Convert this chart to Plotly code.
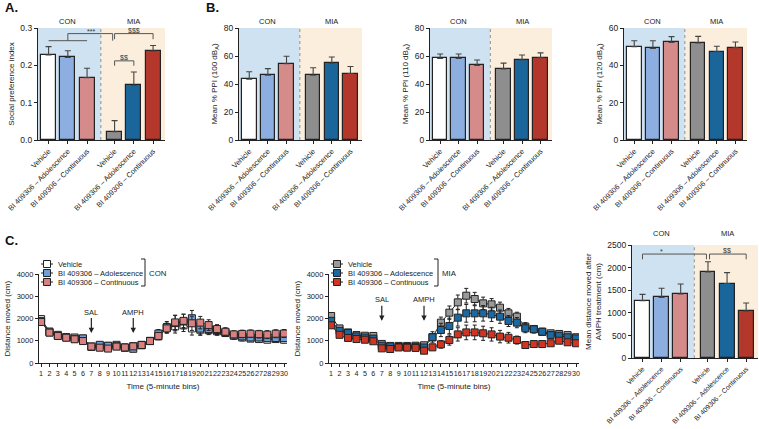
import plotly.graph_objects as go

# ---- data ----
treatments = ["Vehicle", "BI 409306 – Adolescence", "BI 409306 – Continuous"]
bar_labels = treatments + treatments

social_pref = [0.228, 0.221, 0.167, 0.022, 0.146, 0.238]
social_pref_err = [0.022, 0.018, 0.025, 0.030, 0.036, 0.015]

ppi_100 = [43.4, 46.3, 54.5, 46.3, 54.7, 47.5]
ppi_100_err = [5.3, 4.7, 5.3, 5.3, 4.6, 5.0]
ppi_110 = [58.3, 58.3, 53.3, 50.8, 57.1, 58.8]
ppi_110_err = [3.1, 3.1, 3.8, 4.1, 3.6, 3.4]
ppi_120 = [50.0, 49.1, 52.3, 52.0, 47.3, 49.5]
ppi_120_err = [3.2, 4.1, 3.1, 3.5, 2.9, 3.0]

amph_dist = [1270, 1345, 1420, 1905, 1650, 1040]
amph_dist_err = [140, 200, 220, 225, 240, 180]

bins = list(range(1, 31))
con_vehicle = [1980, 1420, 1270, 1170, 1150, 1100, 740, 790, 770, 820, 700, 760, 820, 990, 1200,
               1600, 1650, 1700, 1560, 1500, 1480, 1430, 1350, 1250, 1150, 1100, 1080, 1050, 1080, 1050]
con_vehicle_err = [90, 80, 70, 60, 60, 70, 60, 70, 60, 70, 60, 80, 70, 80, 150,
                   200, 300, 280, 300, 250, 200, 180, 150, 150, 150, 130, 130, 130, 140, 140]
con_adol = [1900, 1380, 1230, 1160, 1100, 1110, 730, 820, 780, 760, 690, 640, 800, 1000, 1330,
            1620, 1800, 1870, 2020, 1550, 1530, 1480, 1380, 1230, 1200, 1150, 1150, 1120, 1130, 1120]
con_adol_err = [100, 90, 80, 70, 70, 80, 60, 80, 70, 70, 60, 100, 80, 90, 180,
                250, 350, 330, 350, 280, 220, 200, 180, 170, 160, 150, 150, 150, 150, 150]
con_cont = [1850, 1370, 1220, 1140, 1070, 990, 740, 690, 650, 740, 700, 750, 810, 990, 1220,
            1560, 1830, 1900, 1790, 1820, 1710, 1530, 1410, 1290, 1310, 1320, 1300, 1280, 1320, 1330]
con_cont_err = [100, 80, 70, 70, 70, 80, 70, 70, 60, 70, 60, 90, 80, 80, 150,
                220, 320, 300, 320, 280, 240, 200, 180, 160, 170, 170, 170, 180, 180, 180]

mia_vehicle = [2120, 1560, 1380, 1260, 1230, 1220, 860, 770, 770, 770, 780, 800, 1160, 1820, 2270,
               2735, 3035, 2885, 2690, 2645, 2495, 2240, 2090, 1640, 1535, 1410, 1340, 1310, 1260, 1160]
mia_vehicle_err = [120, 100, 90, 80, 80, 90, 70, 60, 60, 60, 60, 70, 150, 250, 300,
                   330, 330, 300, 280, 260, 250, 220, 200, 180, 150, 130, 120, 120, 110, 110]
mia_adol = [1900, 1450, 1350, 1200, 1150, 1100, 780, 750, 720, 720, 730, 700, 1160, 1490, 1670,
            2045, 2240, 2240, 2240, 2195, 2090, 1895, 1820, 1565, 1520, 1410, 1260, 1230, 1160, 1110]
mia_adol_err = [130, 100, 90, 80, 80, 80, 70, 60, 60, 60, 60, 70, 250, 300, 350,
                380, 400, 380, 350, 320, 300, 250, 230, 200, 170, 150, 130, 120, 110, 100]
mia_cont = [1700, 1270, 1130, 1080, 1050, 980, 660, 630, 700, 690, 680, 555, 705, 840, 1035,
            1290, 1380, 1380, 1340, 1290, 1190, 1140, 1035, 810, 855, 855, 890, 1005, 935, 890]
mia_cont_err = [110, 90, 80, 70, 70, 80, 70, 60, 60, 60, 60, 80, 120, 170, 230,
                300, 330, 330, 320, 300, 280, 240, 180, 130, 110, 100, 100, 100, 90, 90]

# ---- styling ----
FONT = "Arial, Liberation Sans, sans-serif"
INK = "#222222"
bar_colors = ["#ffffff", "#8daee0", "#d68b8b", "#8e8e8e", "#1a6599", "#b3382b"]
BG_CON = "#cfe2f1"
BG_MIA = "#fbeedd"
W, H = 759, 429


def fx(px):
    return px / W


def fy(py):
    return 1 - py / H


pos = [1, 2, 3, 4.43, 5.43, 6.43]
xr = [0.45, 7.05]
mid = (pos[2] + pos[3]) / 2

fig = go.Figure()
shapes = []
annotations = []
layout_axes = {}


def bar_panel(n, vals, errs, xpx, ypx, yrange, dtick, ytitle, tickformat=None, xfont=7.4):
    s = "" if n == 1 else str(n)
    fig.add_trace(go.Bar(
        x=pos, y=vals, xaxis="x" + s, yaxis="y" + s, width=0.78,
        marker=dict(color=bar_colors, line=dict(color=INK, width=1.2)),
        error_y=dict(type="data", symmetric=False, array=errs, arrayminus=[0] * 6,
                     color="#444", thickness=1.1, width=3),
        showlegend=False, hoverinfo="skip"))
    layout_axes["xaxis" + s] = dict(
        domain=[fx(xpx[0]), fx(xpx[1])], anchor="y" + s, range=xr, automargin=False,
        tickmode="array", tickvals=pos, ticktext=bar_labels, tickangle=-45,
        tickfont=dict(size=xfont), showline=True, linecolor=INK, linewidth=1.3,
        ticks="outside", ticklen=3, tickcolor=INK, showgrid=False, zeroline=False)
    layout_axes["yaxis" + s] = dict(
        domain=[fy(ypx[1]), fy(ypx[0])], anchor="x" + s, range=yrange, dtick=dtick,
        automargin=False, tickformat=tickformat, tickfont=dict(size=8.5), showline=True,
        linecolor=INK, linewidth=1.3, ticks="outside", ticklen=3, tickcolor=INK,
        showgrid=False, zeroline=False, title=dict(text=ytitle, font=dict(size=8), standoff=4))
    xref, yref = "x" + s, "y" + s
    shapes.append(dict(type="rect", xref=xref, yref=yref, x0=xr[0], x1=mid,
                       y0=yrange[0], y1=yrange[1], fillcolor=BG_CON, line_width=0, layer="below"))
    shapes.append(dict(type="rect", xref=xref, yref=yref, x0=mid, x1=xr[1],
                       y0=yrange[0], y1=yrange[1], fillcolor=BG_MIA, line_width=0, layer="below"))
    shapes.append(dict(type="line", xref=xref, yref=yref, x0=mid, x1=mid,
                       y0=yrange[0], y1=yrange[1], line=dict(color="#777", width=0.8, dash="dot"),
                       layer="below"))
    annotations.append(dict(xref=xref, yref="paper", x=pos[1], y=fy(ypx[0] - 12), text="CON",
                            showarrow=False, borderpad=0, font=dict(size=7.5)))
    annotations.append(dict(xref=xref, yref="paper", x=pos[4], y=fy(ypx[0] - 12), text="MIA",
                            showarrow=False, borderpad=0, font=dict(size=7.5)))


def bracket(n, x0, x1, y_low, y_high, label, lx, ly):
    s = "" if n == 1 else str(n)
    shapes.append(dict(type="path", xref="x" + s, yref="y" + s,
                       path=f"M{x0},{y_low} L{x0},{y_high} L{x1},{y_high} L{x1},{y_low}",
                       line=dict(color="#555", width=1)))
    annotations.append(dict(xref="x" + s, yref="y" + s, x=lx, y=ly, text=label,
                            showarrow=False, borderpad=0, font=dict(size=7, color="#333")))


# Panel A
bar_panel(1, social_pref, social_pref_err, (38, 165), (28, 140), [0, 0.3], 0.1,
          "Social preference index", ".1f")
shapes.append(dict(type="line", xref="x", yref="y", x0=pos[0], x1=pos[2], y0=0.266, y1=0.266,
                   line=dict(color="#555", width=1)))
bracket(1, pos[1], pos[3] - 0.1, 0.266, 0.285, "***", 3.2, 0.291)
bracket(1, pos[3], pos[5], 0.27, 0.285, "$$$", pos[4], 0.293)
bracket(1, pos[3], pos[4], 0.199, 0.212, "$$", 4.93, 0.222)

# Panel B
bar_panel(2, ppi_100, ppi_100_err, (239, 362), (28, 140), [0, 80], 20, "Mean % PPI (100 dB<sub>A</sub>)")
bar_panel(3, ppi_110, ppi_110_err, (430, 552), (28, 140), [0, 80], 20, "Mean % PPI (110 dB<sub>A</sub>)")
bar_panel(4, ppi_120, ppi_120_err, (624, 747), (28, 140), [0, 60], 20, "Mean % PPI (120 dB<sub>A</sub>)")

# Panel C bar
bar_panel(7, amph_dist, amph_dist_err, (632, 758), (245, 358.3), [0, 2500], 500,
          "Mean distance moved after<br>AMPH treatment (cm)", xfont=6.8)
bracket(7, pos[0], pos[3] - 0.08, 2185, 2300, "*", 2.0, 2360)
bracket(7, pos[3] + 0.08, pos[5], 2185, 2300, "$$", 5.4, 2370)


# Panel C time courses
def line_panel(n, series, xpx, ypx):
    s = str(n)
    for vals, errs, col in series:
        fig.add_trace(go.Scatter(
            x=bins, y=vals, xaxis="x" + s, yaxis="y" + s, mode="lines+markers",
            line=dict(color=INK, width=1),
            marker=dict(symbol="square", size=7, color=col, line=dict(color=INK, width=1)),
            error_y=dict(type="data", array=errs, color=INK, thickness=1, width=2),
            showlegend=False, hoverinfo="skip"))
    layout_axes["xaxis" + s] = dict(
        domain=[fx(xpx[0]), fx(xpx[1])], anchor="y" + s, range=[0.75, 30.35], automargin=False,
        tickmode="linear", tick0=1, dtick=1, tickangle=0, tickfont=dict(size=7.2),
        showline=True, linecolor=INK, linewidth=1.3, ticks="outside", ticklen=3,
        tickcolor=INK, showgrid=False, zeroline=False,
        title=dict(text="Time (5-minute bins)", font=dict(size=8), standoff=6))
    layout_axes["yaxis" + s] = dict(
        domain=[fy(ypx[1]), fy(ypx[0])], anchor="x" + s, range=[0, 4000], dtick=1000,
        automargin=False, tickfont=dict(size=7.5), showline=True, linecolor=INK, linewidth=1.3,
        ticks="outside", ticklen=3, tickcolor=INK, showgrid=False, zeroline=False,
        title=dict(text="Distance moved (cm)", font=dict(size=8), standoff=4))


line_panel(5, [(con_vehicle, con_vehicle_err, "#ffffff"),
               (con_adol, con_adol_err, "#6f9fd8"),
               (con_cont, con_cont_err, "#d98080")], (39, 287), (274.3, 363))
line_panel(6, [(mia_vehicle, mia_vehicle_err, "#9a9a9a"),
               (mia_adol, mia_adol_err, "#1a69a2"),
               (mia_cont, mia_cont_err, "#cf3522")], (329, 579), (274.3, 363))

for s, tip in (("5", 1350), ("6", 1900)):
    for b, lab in ((7, "SAL"), (12, "AMPH")):
        annotations.append(dict(xref="x" + s, yref="y" + s, x=b, y=tip, text=lab, showarrow=True,
                                ax=0, ay=-21, arrowhead=2, arrowsize=0.9, arrowwidth=1.2,
                                arrowcolor=INK, font=dict(size=7.5)))


# manual legends
def legend_block(x_sq, ys, colors, x_br, group):
    for yy, col, lab in zip(ys, colors, treatments):
        shapes.append(dict(type="line", xref="paper", yref="paper", x0=fx(x_sq - 6), x1=fx(x_sq + 6),
                           y0=fy(yy), y1=fy(yy), line=dict(color=INK, width=1)))
        shapes.append(dict(type="rect", xref="paper", yref="paper", x0=fx(x_sq - 3.5), x1=fx(x_sq + 3.5),
                           y0=fy(yy + 3.5), y1=fy(yy - 3.5), fillcolor=col, line=dict(color=INK, width=1)))
        annotations.append(dict(xref="paper", yref="paper", x=fx(x_sq + 9), y=fy(yy), text=lab,
                                showarrow=False, xanchor="left", yanchor="middle", font=dict(size=7.5)))
    shapes.append(dict(type="path", xref="paper", yref="paper",
                       path=f"M{fx(x_br - 4)},{fy(ys[0] - 5)} L{fx(x_br)},{fy(ys[0] - 5)} "
                            f"L{fx(x_br)},{fy(ys[-1] + 4)} L{fx(x_br - 4)},{fy(ys[-1] + 4)}",
                       line=dict(color=INK, width=1)))
    annotations.append(dict(xref="paper", yref="paper", x=fx(x_br + 2), y=fy(ys[1]), text=group,
                            showarrow=False, xanchor="left", yanchor="middle", font=dict(size=7.8)))


legend_block(47, [264, 273, 282], ["#ffffff", "#6f9fd8", "#d98080"], 145, "CON")
legend_block(337, [264, 273, 282], ["#9a9a9a", "#1a69a2", "#cf3522"], 438, "MIA")

# panel letters
for lab, px, py in (("A.", 3, 7), ("B.", 204, 7), ("C.", 3, 240)):
    annotations.append(dict(xref="paper", yref="paper", x=fx(px), y=fy(py), text=f"<b>{lab}</b>",
                            showarrow=False, xanchor="left", yanchor="middle",
                            font=dict(size=13, color="#111")))

fig.update_layout(
    width=W, height=H, margin=dict(l=0, r=0, t=0, b=0, autoexpand=False),
    paper_bgcolor="white", plot_bgcolor="rgba(0,0,0,0)",
    font=dict(family=FONT, size=7.5, color=INK),
    bargap=0, shapes=shapes, annotations=annotations, **layout_axes)

# drop the default page margin so the figure sits at the window's top-left corner
fig.write_html("out.html", config={"displayModeBar": False},
               post_script="document.body.style.margin='0';document.body.style.overflow='hidden';")
